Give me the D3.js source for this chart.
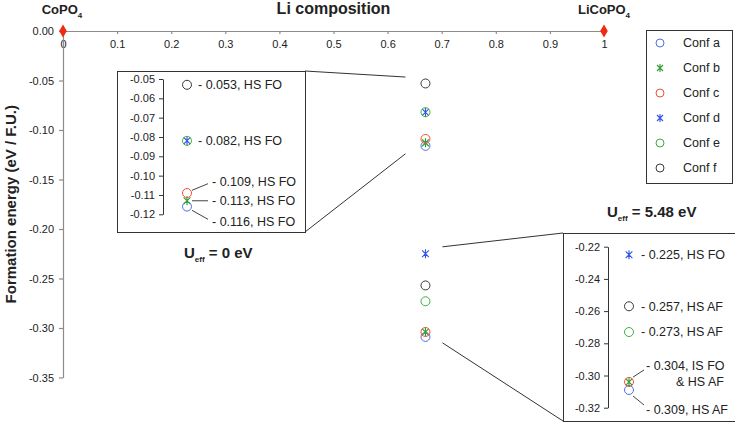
<!DOCTYPE html>
<html>
<head>
<meta charset="utf-8">
<script src="https://cdn.jsdelivr.net/npm/d3@7"></script>
<style>
  body { margin: 0; background: #fff; }
  text { font-family: "Liberation Sans", Arial, sans-serif; fill: #222; }
</style>
</head>
<body>
<svg id="chart" width="735" height="423"></svg>
<script>
// configurations
const confNames = ["Conf a", "Conf b", "Conf c", "Conf d", "Conf e", "Conf f"];
const confColors = ["#4f6fe6", "#2e9e2e", "#ee5030", "#3352ea", "#3fae3f", "#3a3a3a"];
const confShapes = ["circle", "star", "circle", "star", "circle", "circle"];

// Li fraction of the intermediate phase and its energies (eV / F.U.)
const liFraction = 0.67;
const energyU0 = [-0.116, -0.113, -0.109, -0.082, -0.082, -0.053];
const energyU548 = [-0.309, -0.304, -0.304, -0.225, -0.273, -0.257];
const endMembers = [{ x: 0, y: 0 }, { x: 1, y: 0 }];

const xTicks = [0, 0.1, 0.2, 0.3, 0.4, 0.5, 0.6, 0.7, 0.8, 0.9, 1];
const yTicks = [0, -0.05, -0.1, -0.15, -0.2, -0.25, -0.3, -0.35];
const inset0Ticks = [-0.05, -0.06, -0.07, -0.08, -0.09, -0.10, -0.11, -0.12];
const inset548Ticks = [-0.22, -0.24, -0.26, -0.28, -0.30, -0.32];

const inset0Notes = [
  { e: -0.053, text: "- 0.053, HS FO" },
  { e: -0.082, text: "- 0.082, HS FO" },
  { e: -0.109, text: "- 0.109, HS FO" },
  { e: -0.113, text: "- 0.113, HS FO" },
  { e: -0.116, text: "- 0.116, HS FO" }
];
const inset548Notes = [
  { e: -0.225, text: "- 0.225, HS FO" },
  { e: -0.257, text: "- 0.257, HS AF" },
  { e: -0.273, text: "- 0.273, HS AF" },
  { e: -0.304, text: "- 0.304, IS FO" },
  { e: -0.309, text: "- 0.309, HS AF" }
];

const svg = d3.select("#chart");
const axisGray = "#8c8c8c";

const x = d3.scaleLinear().domain([0, 1]).range([63, 604]);
const y = d3.scaleLinear().domain([0, -0.35]).range([31, 377.5]);

// star = vertical bar plus an X
function starPath(s) {
  const d = s * 0.75;
  return `M0,${-s}V${s}M${-d},${-d}L${d},${d}M${-d},${d}L${d},${-d}`;
}

function drawMarker(g, cx, cy, i, r) {
  if (confShapes[i] === "circle") {
    g.append("circle").attr("cx", cx).attr("cy", cy).attr("r", r)
      .attr("fill", "none").attr("stroke", confColors[i]).attr("stroke-width", 1);
  } else {
    g.append("path").attr("d", starPath(r))
      .attr("transform", `translate(${cx},${cy})`)
      .attr("fill", "none").attr("stroke", confColors[i]).attr("stroke-width", 1.1);
  }
}

// x axis along y = 0
const xAxis = svg.append("g")
  .attr("transform", `translate(0,${y(0)})`)
  .call(d3.axisBottom(x).tickValues(xTicks).tickSize(3).tickSizeOuter(0).tickPadding(6)
    .tickFormat(d => String(d)));
xAxis.selectAll("text").attr("font-size", 11).style("fill", "#222");

// y axis
const yAxis = svg.append("g")
  .attr("transform", `translate(${x(0)},0)`)
  .call(d3.axisLeft(y).tickValues(yTicks).tickSize(4).tickSizeOuter(0).tickPadding(5)
    .tickFormat(d => d.toFixed(2)));
yAxis.selectAll("text").attr("font-size", 11).style("fill", "#222");

svg.selectAll(".domain, .tick line").attr("stroke", axisGray).attr("stroke-width", 1.2);

// axis titles
svg.append("text").attr("x", 62).attr("y", 14).attr("text-anchor", "middle")
  .attr("font-size", 13).attr("font-weight", "bold")
  .call(t => { t.append("tspan").text("CoPO"); t.append("tspan").attr("font-size", 8).attr("dy", 4).text("4"); });
svg.append("text").attr("x", x(0.5)).attr("y", 14).attr("text-anchor", "middle")
  .attr("font-size", 16).attr("font-weight", "bold").text("Li composition");
svg.append("text").attr("x", x(1)).attr("y", 14).attr("text-anchor", "middle")
  .attr("font-size", 13).attr("font-weight", "bold")
  .call(t => { t.append("tspan").text("LiCoPO"); t.append("tspan").attr("font-size", 8).attr("dy", 4).text("4"); });
svg.append("text")
  .attr("transform", `translate(16,${(y(0) + y(-0.35)) / 2}) rotate(-90)`)
  .attr("text-anchor", "middle").attr("font-size", 15).attr("font-weight", "bold")
  .text("Formation energy (eV / F.U.)");

// end members
svg.selectAll(".end").data(endMembers).join("path")
  .attr("d", d3.symbol(d3.symbolDiamond, 50)())
  .attr("transform", d => `translate(${x(d.x)},${y(d.y)})`)
  .attr("fill", "#f02a10");

// main points
const main = svg.append("g");
energyU0.forEach((e, i) => drawMarker(main, x(liFraction), y(e), i, 4.5));
energyU548.forEach((e, i) => drawMarker(main, x(liFraction), y(e), i, 4.5));

// connector lines to insets
const lineColor = "#333";
svg.append("line").attr("x1", 305).attr("y1", 71).attr("x2", x(liFraction) - 20).attr("y2", y(-0.0465))
  .attr("stroke", lineColor);
svg.append("line").attr("x1", 305).attr("y1", 232).attr("x2", x(liFraction) - 20).attr("y2", y(-0.124))
  .attr("stroke", lineColor);
svg.append("line").attr("x1", 563).attr("y1", 233).attr("x2", x(liFraction) + 17).attr("y2", y(-0.218))
  .attr("stroke", lineColor);
svg.append("line").attr("x1", 563).attr("y1", 421).attr("x2", x(liFraction) + 17).attr("y2", y(-0.315))
  .attr("stroke", lineColor);

// ---------- inset U = 0 ----------
const in0 = svg.append("g");
in0.append("rect").attr("x", 117.5).attr("y", 71.5).attr("width", 188).attr("height", 161)
  .attr("fill", "#fff").attr("stroke", "#333");
const y0 = d3.scaleLinear().domain([-0.05, -0.12]).range([79, 214.3]);
const in0Axis = in0.append("g").attr("transform", "translate(163,0)")
  .call(d3.axisLeft(y0).tickValues(inset0Ticks).tickSize(4).tickSizeOuter(0).tickPadding(4)
    .tickFormat(d => d.toFixed(2)));
in0Axis.selectAll("text").attr("font-size", 11).style("fill", "#222");
in0Axis.selectAll(".domain, .tick line").attr("stroke", "#333");
const mx0 = 187;
energyU0.forEach((e, i) => drawMarker(in0, mx0, y0(e), i, 4.5));
const off0 = [[11, 0], [11, 0], [25, -11], [25, 0], [25, 15]];
inset0Notes.forEach((n, i) => {
  const [dx, dy] = off0[i];
  in0.append("text").attr("x", mx0 + dx).attr("y", y0(n.e) + dy).attr("dy", "0.35em")
    .attr("font-size", 12.5).text(n.text);
  if (dx > 11) {
    in0.append("line").attr("x1", mx0 + 5).attr("y1", y0(n.e) + dy * 0.25)
      .attr("x2", mx0 + dx - 4).attr("y2", y0(n.e) + dy * 0.85).attr("stroke", "#444");
  }
});
svg.append("text").attr("x", 184).attr("y", 258).attr("font-size", 15).attr("font-weight", "bold")
  .call(t => {
    t.append("tspan").text("U");
    t.append("tspan").attr("font-size", 8).attr("dy", 4).text("eff");
    t.append("tspan").attr("dy", -4).text(" = 0 eV");
  });

// ---------- inset U = 5.48 ----------
const in5 = svg.append("g");
in5.append("rect").attr("x", 563.5).attr("y", 233.5).attr("width", 180).attr("height", 188)
  .attr("fill", "#fff").attr("stroke", "#333");
const y5 = d3.scaleLinear().domain([-0.22, -0.32]).range([246.7, 407.7]);
const in5Axis = in5.append("g").attr("transform", "translate(608,0)")
  .call(d3.axisLeft(y5).tickValues(inset548Ticks).tickSize(4).tickSizeOuter(0).tickPadding(4)
    .tickFormat(d => d.toFixed(2)));
in5Axis.selectAll("text").attr("font-size", 11).style("fill", "#222");
in5Axis.selectAll(".domain, .tick line").attr("stroke", "#333");
const mx5 = 629;
energyU548.forEach((e, i) => drawMarker(in5, mx5, y5(e), i, 4.5));
const off5 = [[12, 0], [12, 0], [12, 0], [17, -16], [17, 20]];
inset548Notes.forEach((n, i) => {
  const [dx, dy] = off5[i];
  in5.append("text").attr("x", mx5 + dx).attr("y", y5(n.e) + dy).attr("dy", "0.35em")
    .attr("font-size", 12.5).text(n.text);
  if (dx > 12) {
    in5.append("line").attr("x1", mx5 + 4).attr("y1", y5(n.e) + dy * 0.3)
      .attr("x2", mx5 + dx - 2).attr("y2", y5(n.e) + dy * 0.75).attr("stroke", "#444");
  }
});
in5.append("text").attr("x", 676).attr("y", y5(-0.304)).attr("dy", "0.35em")
  .attr("font-size", 12.5).text("& HS AF");
svg.append("text").attr("x", 607).attr("y", 217).attr("font-size", 15).attr("font-weight", "bold")
  .call(t => {
    t.append("tspan").text("U");
    t.append("tspan").attr("font-size", 8).attr("dy", 4).text("eff");
    t.append("tspan").attr("dy", -4).text(" = 5.48 eV");
  });

// ---------- legend ----------
const leg = svg.append("g");
leg.append("rect").attr("x", 646.5).attr("y", 30.5).attr("width", 86).attr("height", 153)
  .attr("fill", "#fff").attr("stroke", "#333");
confNames.forEach((name, i) => {
  const ly = 43 + i * 25;
  drawMarker(leg, 660, ly, i, 4);
  leg.append("text").attr("x", 683).attr("y", ly).attr("dy", "0.35em")
    .attr("font-size", 12.5).text(name);
});
</script>
</body>
</html>
